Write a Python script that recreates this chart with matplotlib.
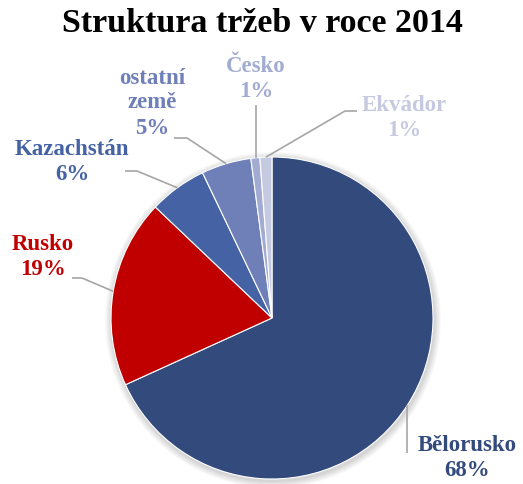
import matplotlib
matplotlib.use("Agg")
import matplotlib.pyplot as plt
import matplotlib.patches as mpatches
import numpy as np

# data (% of revenue)
countries = ["Bělorusko", "Rusko", "Kazachstán", "ostatní\nzemě", "Česko", "Ekvádor"]
shares = [68.2, 18.9, 5.8, 5.0, 0.9, 1.2]
colors = ["#334A7D", "#C00000", "#4562A5", "#6F7FB8", "#A2ABD2", "#C5CAE0"]
title = "Struktura tržeb v roce 2014"

W, H = 523, 484
plt.rcParams['font.family'] = ['Liberation Serif', 'DejaVu Serif']

fig = plt.figure(figsize=(W / 100, H / 100), dpi=100)
ax = fig.add_axes([0, 0, 1, 1])

def py(y):
    # pixel row (from top) -> axis y
    return H - y

cx, cy, r = 272, py(318), 161

# soft shadow behind the pie
for i in range(7):
    ax.add_patch(mpatches.Circle((cx + 1, cy - 2), r + 1 + i * 1.0,
                                 color='black', alpha=0.025, lw=0, zorder=0))

wedges, _ = ax.pie(shares, colors=colors, startangle=90, counterclock=False,
                   center=(cx, cy), radius=r, frame=True,
                   wedgeprops=dict(edgecolor='white', linewidth=0.8))
ax.set_xlim(0, W)
ax.set_ylim(0, H)
ax.set_aspect('equal')
ax.axis('off')

# label text centre and leader path (start, optional knee) in pixels
label_pos = [(467, 458), (43, 257), (72, 162), (152, 103), (256, 79), (404, 118)]
leaders = [[(407, 453)],
           [(72, 278), (82, 278)],
           [(125, 171), (137, 171)],
           [(174, 138), (187, 138)],
           [(255.5, 105)],
           [(357, 111), (345, 111)]]

for w, name, v, c, (tx, ty), path in zip(wedges, countries, shares, colors,
                                        label_pos, leaders):
    mid = np.deg2rad((w.theta1 + w.theta2) / 2)
    ex, ey = cx + r * np.cos(mid), cy + r * np.sin(mid)
    xs = [p[0] for p in path]
    ys = [py(p[1]) for p in path]
    if len(path) == 1:
        xs.append(xs[0])
    else:
        xs.append(ex)
    ys.append(ey)
    ax.plot(xs, ys, color='#A6A6A6', lw=1.2, zorder=1, solid_capstyle='butt')
    ax.text(tx, py(ty), f"{name}\n{v:.0f}%", ha='center', va='center',
            color=c, fontsize=16.5, fontweight='bold', linespacing=1.25)

ax.text(262, py(23), title, ha='center', va='center', fontsize=24.5,
        fontweight='bold', color='black')

fig.savefig("out.png", dpi=100)
